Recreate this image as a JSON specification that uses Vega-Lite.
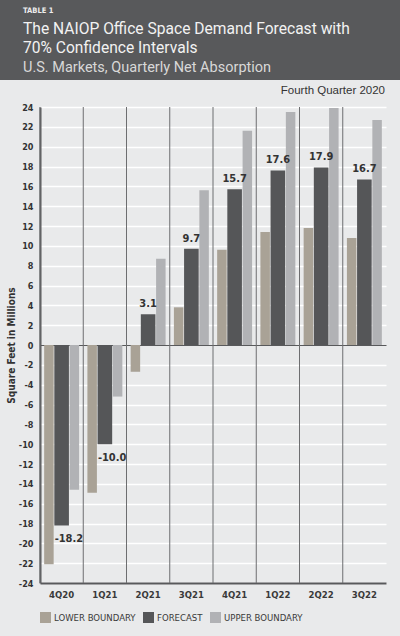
{
  "$schema": "https://vega.github.io/schema/vega-lite/v6.json",
  "background": "#e9eaeb",
  "padding": {"left": 0, "top": 0, "right": 0, "bottom": 14},
  "spacing": 4,
  "config": {
    "view": {"stroke": null},
    "locale": {"number": {"decimal": ".", "thousands": ",", "grouping": [3], "currency": ["$", ""], "minus": "-"}}
  },
  "vconcat": [
    {
      "spacing": 0,
      "vconcat": [
        {
          "width": 400,
          "height": 16,
          "view": {"fill": "#58595b", "stroke": null},
          "data": {"values": [{}]},
          "mark": {"type": "text"},
          "encoding": {},
          "title": {"text": "TABLE 1", "anchor": "start", "frame": "group", "offset": -14, "dx": 23, "font": "DejaVu Sans Condensed, sans-serif", "fontSize": 7.5, "fontWeight": "bold", "color": "#eeeeee"}
        },
        {
          "width": 400,
          "height": 64,
          "view": {"fill": "#58595b", "stroke": null},
          "data": {"values": [{}]},
          "mark": {"type": "text"},
          "encoding": {},
          "title": {
            "text": ["The NAIOP Office Space Demand Forecast with", "70% Confidence Intervals"],
            "subtitle": "U.S. Markets, Quarterly Net Absorption",
            "anchor": "start", "frame": "group", "offset": -58, "dx": 23,
            "font": "Roboto, Liberation Sans, sans-serif", "fontSize": 15.6, "fontWeight": "normal", "color": "#f2f2f2", "lineHeight": 19,
            "subtitleFont": "Roboto, Liberation Sans, sans-serif", "subtitleFontSize": 14.5, "subtitleColor": "#d8d8d8", "subtitlePadding": 4
          }
        }
      ]
    },
    {
      "width": 400,
      "height": 476,
      "title": {"text": "Fourth Quarter 2020", "anchor": "end", "frame": "group", "offset": 7, "dx": -15, "font": "Liberation Sans, sans-serif", "fontSize": 11.5, "fontWeight": "normal", "color": "#333333"},
      "data": {"values": [
        {"quarter": "4Q20", "series": "Lower Boundary", "value": -22.1},
        {"quarter": "4Q20", "series": "Forecast", "value": -18.2},
        {"quarter": "4Q20", "series": "Upper Boundary", "value": -14.6},
        {"quarter": "1Q21", "series": "Lower Boundary", "value": -14.9},
        {"quarter": "1Q21", "series": "Forecast", "value": -10.0},
        {"quarter": "1Q21", "series": "Upper Boundary", "value": -5.2},
        {"quarter": "2Q21", "series": "Lower Boundary", "value": -2.7},
        {"quarter": "2Q21", "series": "Forecast", "value": 3.1},
        {"quarter": "2Q21", "series": "Upper Boundary", "value": 8.7},
        {"quarter": "3Q21", "series": "Lower Boundary", "value": 3.8},
        {"quarter": "3Q21", "series": "Forecast", "value": 9.7},
        {"quarter": "3Q21", "series": "Upper Boundary", "value": 15.6},
        {"quarter": "4Q21", "series": "Lower Boundary", "value": 9.6},
        {"quarter": "4Q21", "series": "Forecast", "value": 15.7},
        {"quarter": "4Q21", "series": "Upper Boundary", "value": 21.6},
        {"quarter": "1Q22", "series": "Lower Boundary", "value": 11.4},
        {"quarter": "1Q22", "series": "Forecast", "value": 17.6},
        {"quarter": "1Q22", "series": "Upper Boundary", "value": 23.5},
        {"quarter": "2Q22", "series": "Lower Boundary", "value": 11.8},
        {"quarter": "2Q22", "series": "Forecast", "value": 17.9},
        {"quarter": "2Q22", "series": "Upper Boundary", "value": 23.9},
        {"quarter": "3Q22", "series": "Lower Boundary", "value": 10.8},
        {"quarter": "3Q22", "series": "Forecast", "value": 16.7},
        {"quarter": "3Q22", "series": "Upper Boundary", "value": 22.7}
      ]},
      "encoding": {
        "x": {
          "field": "quarter", "type": "nominal",
          "sort": ["4Q20", "1Q21", "2Q21", "3Q21", "4Q21", "1Q22", "2Q22", "3Q22"],
          "scale": {"range": [40, 386], "paddingInner": 0, "paddingOuter": 0},
          "axis": {
            "title": null, "grid": false,
            "ticks": false, "domainColor": "#58595b", "domainWidth": 2,
            "labelFont": "DejaVu Sans Condensed, sans-serif", "labelFontSize": 9.5, "labelFontWeight": "bold",
            "labelColor": "#3a3a3a", "labelPadding": 6, "labelAngle": 0
          }
        },
        "xOffset": {
          "field": "series", "type": "nominal",
          "scale": {"domain": ["Lower Boundary", "Forecast", "Upper Boundary"], "paddingInner": 0, "paddingOuter": 0.2}
        },
        "y": {
          "field": "value", "type": "quantitative",
          "scale": {"domain": [-24, 24], "nice": false},
          "axis": {
            "values": [-24, -22, -20, -18, -16, -14, -12, -10, -8, -6, -4, -2, 0, 2, 4, 6, 8, 10, 12, 14, 16, 18, 20, 22, 24],
            "offset": -40,
            "title": "Square Feet in Millions", "grid": true,
            "gridColor": {"condition": {"test": "datum.value === 0", "value": "#58595b"}, "value": "#ffffff"},
            "gridWidth": {"condition": {"test": "datum.value === 0", "value": 1.2}, "value": 1.5},
            "ticks": false, "domainColor": "#58595b", "domainWidth": 2,
            "labelFont": "DejaVu Sans Condensed, sans-serif", "labelFontSize": 9, "labelFontWeight": "bold",
            "labelColor": "#333333", "labelPadding": 7,
            "titleFont": "DejaVu Sans Condensed, sans-serif", "titleFontSize": 10, "titleFontWeight": "bold",
            "titleColor": "#333333", "titlePadding": 2
          }
        }
      },
      "layer": [
        {
          "transform": [{"filter": "datum.series === 'Forecast'"}],
          "mark": {"type": "rule", "color": "#6d6e70", "strokeWidth": 1},
          "encoding": {"x": {"field": "quarter", "type": "nominal", "bandPosition": 0, "sort": ["4Q20", "1Q21", "2Q21", "3Q21", "4Q21", "1Q22", "2Q22", "3Q22"]}, "xOffset": null, "y": null}
        },
        {
          "transform": [{"filter": "datum.series !== 'Forecast'"}],
          "mark": {"type": "bar", "width": 9.5},
          "encoding": {
            "color": {
              "field": "series", "type": "nominal",
              "scale": {"domain": ["Lower Boundary", "Forecast", "Upper Boundary"], "range": ["#a9a296", "#555658", "#b1b2b5"]},
              "legend": {
                "orient": "none", "legendX": 40, "legendY": 612, "direction": "horizontal", "title": null,
                "symbolType": "square", "symbolSize": 121, "symbolStrokeWidth": 0, "symbolOpacity": 1,
                "labelFont": "DejaVu Sans Condensed, sans-serif", "labelFontSize": 9.5, "labelOffset": 3,
                "labelColor": "#3a3a3a", "columnPadding": 7, "labelExpr": "upper(datum.label)"
              }
            }
          }
        },
        {
          "transform": [{"filter": "datum.series === 'Forecast'"}],
          "mark": {"type": "bar", "width": 14.6},
          "encoding": {
            "color": {"field": "series", "type": "nominal"}
          }
        },
        {
          "transform": [{"filter": "datum.series === 'Forecast' && datum.value > 0"}],
          "mark": {"type": "text", "baseline": "bottom", "dy": -5, "font": "DejaVu Sans Condensed, sans-serif", "fontSize": 11, "fontWeight": "bold", "color": "#333333"},
          "encoding": {"text": {"field": "value", "type": "quantitative", "format": ".1f"}}
        },
        {
          "transform": [{"filter": "datum.series === 'Forecast' && datum.value < 0"}],
          "mark": {"type": "text", "baseline": "top", "align": "left", "dx": -7, "dy": 8, "font": "DejaVu Sans Condensed, sans-serif", "fontSize": 11, "fontWeight": "bold", "color": "#333333"},
          "encoding": {"text": {"field": "value", "type": "quantitative", "format": ".1f"}}
        }
      ]
    }
  ]
}
